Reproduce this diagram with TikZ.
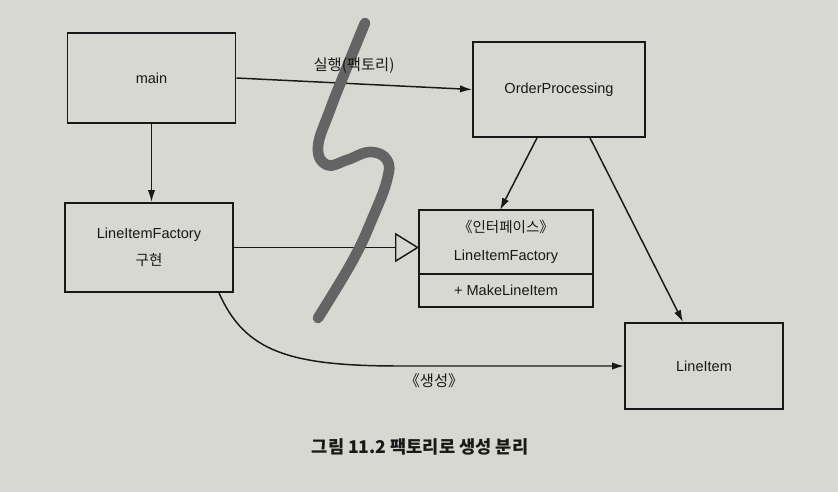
\documentclass[tikz,border=0pt]{standalone}
\usepackage{fontspec}
\setmainfont{Liberation Sans}
\newfontfamily\kr{Noto Sans CJK KR}
\usetikzlibrary{arrows.meta,calc}
\definecolor{paper}{RGB}{216,216,211}
\definecolor{ink}{RGB}{24,24,24}
\definecolor{stroke}{RGB}{100,100,100}
\begin{document}
\begin{tikzpicture}[x=0.75pt,y=-0.75pt,
  box/.style={draw=ink, line width=1.4pt, fill=paper, align=center, inner sep=0pt,
    text=ink, font=\fontsize{10.9}{20}\selectfont},
  link/.style={draw=ink, line width=1.1pt, -{Latex[length=9pt,width=5.5pt]}},
  realize/.style={draw=ink, line width=1.1pt,
    -{Triangle[open,length=18pt,width=22pt,fill=paper,line width=1.1pt]}},
  lbl/.style={text=ink, font=\kr\fontsize{11.5}{13}\selectfont, inner sep=1pt},
  squiggle/.style={draw=stroke, line width=8pt, line cap=round, line join=round}]

% page
\fill[paper] (0,0) rectangle (838,492);
\useasboundingbox (0,0) rectangle (838,492);

% classes
\node[box, minimum width=126pt, minimum height=67.5pt] (main) at (151.5,78) {main};
\node[box, minimum width=129pt, minimum height=71.25pt] (op) at (559,89.5) {OrderProcessing};
\node[box, minimum width=126pt, minimum height=66.75pt] (lif) at (149,247.5)
  {LineItemFactory\\{\kr 구현}};
\node[box, outer sep=0pt, minimum width=130.5pt, minimum height=48pt,
  font=\fontsize{10.9}{21}\selectfont]
  (iface) at (506,242) {{\kr 《인터페이스》}\\LineItemFactory};
\node[box, outer sep=0pt, minimum width=130.5pt, minimum height=24.75pt, anchor=north]
  (ifaceops) at (iface.south) {+ MakeLineItem};
\node[box, minimum width=118.5pt, minimum height=64.5pt] (li) at (704,366) {LineItem};

% relations
\draw[link] (main.east) -- (op.west);
\draw[link] (main.south) -- (main.south |- lif.north);
\draw[realize] (lif.east) -- (lif.east -| iface.west);
\draw[link] ($(op.south)+(-22,0)$) -- ($(iface.north)+(-6,0)$);
\draw[link] ($(op.south)+(31,0)$) -- ($(li.north)+(-21,0)$);
\draw[link] ($(lif.south)+(70,0)$) .. controls (245,352) and (290,366) .. (400,366) -- (li.west);

% boundary stroke
\draw[squiggle] plot[smooth, tension=0.7] coordinates {(365,23) (347,67) (330,110)
  (318,147) (327,165) (347,160) (370,152) (387,160) (387,180) (373,217) (353,260) (318,318)};

% labels
\node[lbl] (runlbl) at (354,66) {실행(팩토리)};
\node[lbl] (makelbl) at (434,381) {《생성》};
\node[text=ink, font=\kr\bfseries\fontsize{13.2}{15}\selectfont] (caption) at (420,447)
  {그림 11.2 팩토리로 생성 분리};
\end{tikzpicture}
\end{document}
